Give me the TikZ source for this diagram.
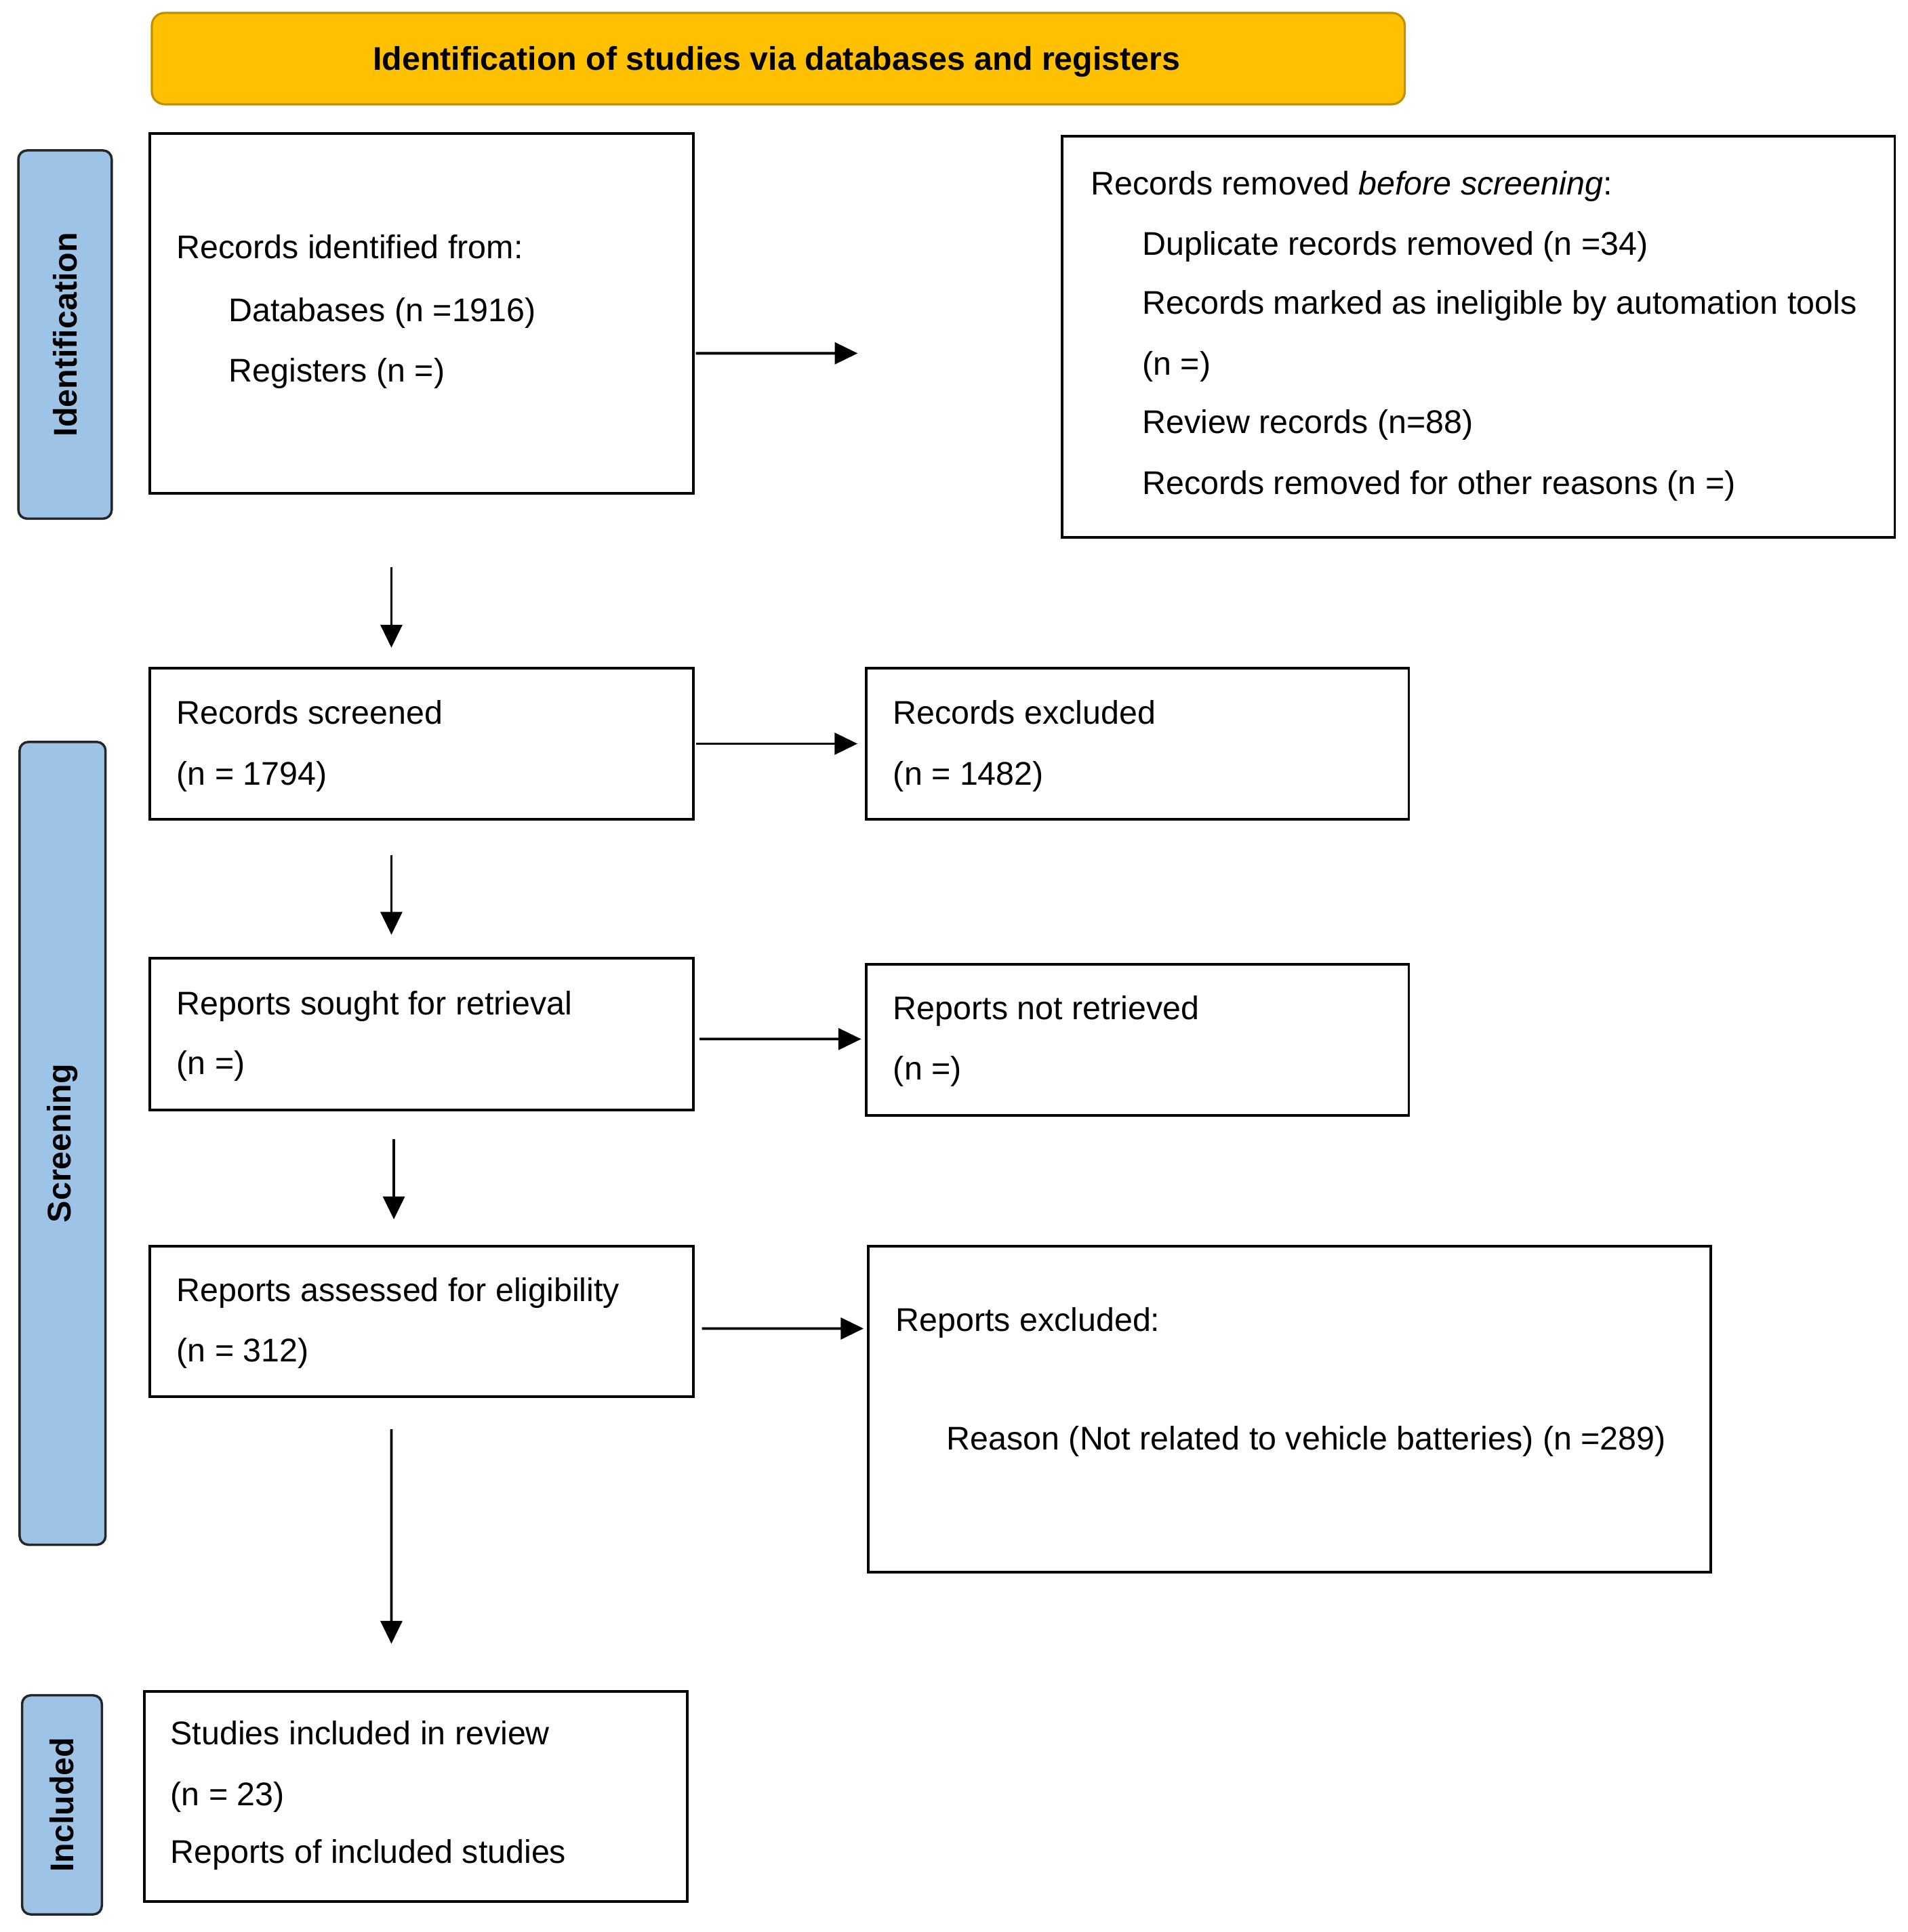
\documentclass[tikz,border=0pt]{standalone}
\usepackage{fontspec}
\setmainfont{Liberation Sans}
\usetikzlibrary{arrows.meta}
\definecolor{titlefill}{HTML}{FFC000}
\definecolor{titledraw}{HTML}{BF9000}
\definecolor{labfill}{HTML}{9DC3E6}
\begin{document}
\begin{tikzpicture}[x=0.01cm,y=-0.01cm,
  every node/.style={font=\fontsize{7.6pt}{9pt}\selectfont},
  box/.style={draw=black, line width=0.6pt, fill=white, inner sep=0pt, outer sep=0pt},
  lab/.style={draw=black!85, line width=0.55pt, fill=labfill, rounded corners=2pt, inner sep=0pt, outer sep=0pt, rotate=90, font=\fontsize{7.6pt}{9pt}\selectfont\bfseries},
  titlebox/.style={draw=titledraw, line width=0.5pt, fill=titlefill, rounded corners=3pt, inner sep=0pt, outer sep=0pt},
  txt/.style={anchor=base west, inner sep=0pt, outer sep=0pt},
  arr/.style={line width=0.6pt, -{Triangle[length=5.3pt,width=5pt]}}
]
\useasboundingbox (0,0) rectangle (1555,1574.9);

% title
\node[titlebox, minimum width=10.206cm, minimum height=0.745cm] (title) at (634.3,47.75) {};
\node[txt, anchor=base, font=\fontsize{7.6pt}{9pt}\selectfont\bfseries] (titletxt) at (633,57) {Identification of studies via databases and registers};

% side labels
\node[lab, minimum width=3.0cm, minimum height=0.76cm] (lab1) at (53,272.7) {Identification};
\node[lab, minimum width=6.54cm, minimum height=0.70cm] (lab2) at (51,932) {Screening};
\node[lab, minimum width=1.785cm, minimum height=0.65cm] (lab3) at (50.5,1471.25) {Included};

% boxes
\node[box, minimum width=4.43cm, minimum height=2.93cm] (b1) at (343.5,255.5) {};
\node[box, minimum width=6.78cm, minimum height=3.27cm] (b2) at (1205,274.5) {};
\node[box, minimum width=4.43cm, minimum height=1.235cm] (b3) at (343.5,606.25) {};
\node[box, minimum width=4.42cm, minimum height=1.235cm] (b4) at (927,606.25) {};
\node[box, minimum width=4.43cm, minimum height=1.24cm] (b5) at (343.5,843) {};
\node[box, minimum width=4.42cm, minimum height=1.23cm] (b6) at (927,847.5) {};
\node[box, minimum width=4.43cm, minimum height=1.225cm] (b7) at (343.5,1077.25) {};
\node[box, minimum width=6.86cm, minimum height=2.656cm] (b8) at (1051,1148.8) {};
\node[box, minimum width=4.42cm, minimum height=1.71cm] (b9) at (339,1464.5) {};

% texts
\node[txt] (t1a) at (144,211) {Records identified from:};
\node[txt] (t1b) at (186.5,262) {Databases (n =1916)};
\node[txt] (t1c) at (186.5,311) {Registers (n =)};

\node[txt] (t2a) at (889,159) {Records removed \textit{before screening}:};
\node[txt] (t2b) at (931,208) {Duplicate records removed (n =34)};
\node[txt] (t2c) at (931,256) {Records marked as ineligible by automation tools};
\node[txt] (t2d) at (931,306) {(n =)};
\node[txt] (t2e) at (931,353) {Review records (n=88)};
\node[txt] (t2f) at (931,403) {Records removed for other reasons (n =)};

\node[txt] (t3a) at (144,590) {Records screened};
\node[txt] (t3b) at (144,640) {(n = 1794)};
\node[txt] (t4a) at (728,590) {Records excluded};
\node[txt] (t4b) at (728,640) {(n = 1482)};

\node[txt] (t5a) at (144,827) {Reports sought for retrieval};
\node[txt] (t5b) at (144,876) {(n =)};
\node[txt] (t6a) at (728,831) {Reports not retrieved};
\node[txt] (t6b) at (728,880) {(n =)};

\node[txt] (t7a) at (144,1061) {Reports assessed for eligibility};
\node[txt] (t7b) at (144,1110) {(n = 312)};
\node[txt] (t8a) at (730,1085) {Reports excluded:};
\node[txt] (t8b) at (771.6,1182) {Reason (Not related to vehicle batteries) (n =289)};

\node[txt] (t9a) at (139,1422) {Studies included in review};
\node[txt] (t9b) at (139,1472) {(n = 23)};
\node[txt] (t9c) at (139,1519) {Reports of included studies};

% connectors
\coordinate (h1end) at (699,288);
\draw[arr] ([xshift=0.02cm,yshift=-0.325cm]b1.east) -- (h1end);
\draw[arr] ([xshift=0.02cm]b3.east) -- ([xshift=-0.07cm]b4.west);
\draw[arr] ([xshift=0.05cm,yshift=-0.04cm]b5.east) -- ([xshift=-0.04cm,yshift=0.005cm]b6.west);
\draw[arr] ([xshift=0.07cm,yshift=-0.0575cm]b7.east) -- ([xshift=-0.04cm,yshift=0.658cm]b8.west);

\draw[arr] ([xshift=1.97cm,yshift=-0.60cm]b1.south west) -- ([xshift=1.97cm,yshift=0.165cm]b3.north west);
\draw[arr] ([xshift=1.97cm,yshift=-0.29cm]b3.south west) -- ([xshift=1.97cm,yshift=0.19cm]b5.north west);
\draw[arr] ([xshift=1.99cm,yshift=-0.235cm]b5.south west) -- ([xshift=1.99cm,yshift=0.22cm]b7.north west);
\draw[arr] ([xshift=1.97cm,yshift=-0.265cm]b7.south west) -- ([xshift=2.01cm,yshift=0.39cm]b9.north west);
\end{tikzpicture}
\end{document}
